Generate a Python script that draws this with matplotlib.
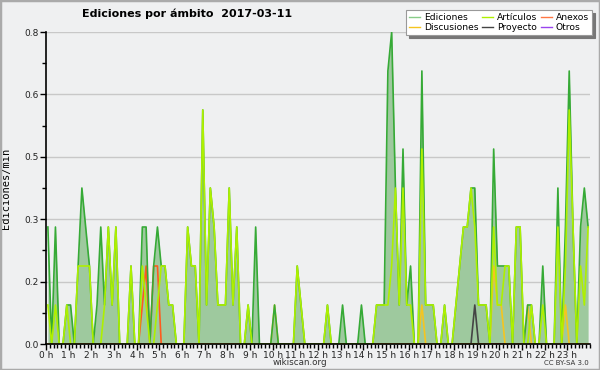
import numpy as np
import matplotlib
matplotlib.use("Agg")
import matplotlib.pyplot as plt
from matplotlib.patches import Rectangle
from matplotlib.ticker import FixedLocator, MultipleLocator

# edits per minute, one value per 10-minute bin (6 per hour, 0h..23h)
ediciones = [
    0.3, 0, 0.3, 0, 0, 0.1,        # 0h
    0.1, 0, 0.2, 0.4, 0.3, 0.2,    # 1h
    0, 0.1, 0.3, 0.1, 0.3, 0.1,    # 2h
    0.3, 0, 0, 0, 0.2, 0,          # 3h
    0, 0.3, 0.3, 0, 0.2, 0.3,      # 4h
    0.2, 0.2, 0.1, 0.1, 0, 0,      # 5h
    0, 0.3, 0.2, 0.2, 0, 0.6,      # 6h
    0.1, 0.4, 0.3, 0.1, 0.1, 0.1,  # 7h
    0.4, 0.1, 0.3, 0, 0, 0.1,      # 8h
    0, 0.3, 0, 0, 0, 0,            # 9h
    0.1, 0, 0, 0, 0, 0,            # 10h
    0.2, 0.1, 0, 0, 0, 0,          # 11h
    0, 0, 0.1, 0, 0, 0,            # 12h
    0.1, 0, 0, 0, 0, 0.1,          # 13h
    0, 0, 0, 0.1, 0.1, 0.1,        # 14h
    0.7, 0.8, 0.4, 0.1, 0.5, 0.1,  # 15h
    0.2, 0, 0, 0.7, 0.1, 0.1,      # 16h
    0.1, 0, 0, 0.1, 0, 0,          # 17h
    0.1, 0.2, 0.3, 0.3, 0.4, 0.4,  # 18h
    0.1, 0.1, 0.1, 0, 0.5, 0.2,    # 19h
    0.2, 0.2, 0.2, 0, 0.3, 0.3,    # 20h
    0, 0.1, 0.1, 0, 0, 0.2,        # 21h
    0, 0, 0, 0.4, 0, 0.3,          # 22h
    0.7, 0.3, 0, 0.3, 0.4, 0.3,    # 23h
]

articulos = [
    0.1, 0, 0.1, 0, 0, 0.1,
    0, 0, 0.2, 0.2, 0.2, 0.2,
    0, 0, 0, 0.1, 0.3, 0.1,
    0.3, 0, 0, 0, 0.2, 0,
    0, 0.2, 0.1, 0, 0, 0.1,
    0.2, 0.2, 0.1, 0.1, 0, 0,
    0, 0.3, 0.2, 0.2, 0, 0.6,
    0.1, 0.4, 0.3, 0.1, 0.1, 0.1,
    0.4, 0.1, 0.3, 0, 0, 0.1,
    0, 0, 0, 0, 0, 0,
    0, 0, 0, 0, 0, 0,
    0.2, 0.1, 0, 0, 0, 0,
    0, 0, 0.1, 0, 0, 0,
    0, 0, 0, 0, 0, 0,
    0, 0, 0, 0.1, 0.1, 0.1,
    0.1, 0.2, 0.4, 0.1, 0.4, 0.1,
    0.1, 0, 0, 0.5, 0.1, 0.1,
    0.1, 0, 0, 0.1, 0, 0,
    0.1, 0.2, 0.3, 0.3, 0.4, 0.3,
    0.1, 0.1, 0.1, 0, 0.3, 0.1,
    0.1, 0.2, 0.2, 0, 0.3, 0.3,
    0, 0, 0.1, 0, 0, 0.1,
    0, 0, 0, 0.3, 0, 0.2,
    0.6, 0.3, 0, 0.2, 0.1, 0.3,
]

# sparse series: bin index -> value
discusiones_bins = [60, 99, 118, 119, 120, 127, 137]
discusiones_vals = [0.1, 0.1, 0.2, 0.1, 0.1, 0.1, 0.1]
anexos_bins = [25, 26, 28, 29]
anexos_vals = [0.1, 0.2, 0.2, 0.2]
proyecto_bins = [113]
proyecto_vals = [0.1]
otros_bins = []
otros_vals = []

hour_labels = ["%d h" % h for h in range(24)]

n = len(ediciones)
t = (np.arange(n) + 0.5) / 6.0


def build(bins, vals):
    s = np.zeros(n)
    s[bins] = vals
    return s


discusiones = build(discusiones_bins, discusiones_vals)
anexos = build(anexos_bins, anexos_vals)
proyecto = build(proyecto_bins, proyecto_vals)
otros = build(otros_bins, otros_vals)

bg = "#eff0f1"
fig = plt.figure(figsize=(6, 3.7), dpi=100, facecolor=bg)
ax = fig.add_axes([46 / 600, 1 - 344 / 370, 544 / 600, 312 / 370])
ax.set_facecolor(bg)

ax.fill_between(t, ediciones, color="#9ec99e", lw=0, zorder=1)
ax.plot(t, otros, color="#9944ee", lw=1.2, zorder=1.5)
ax.plot(t, proyecto, color="#444444", lw=1.2, zorder=1.6)
ax.plot(t, anexos, color="#ff5a1e", lw=1.2, zorder=1.7)
ax.plot(t, discusiones, color="#f5c520", lw=1.2, zorder=1.8)
ax.plot(t, ediciones, color="#36aa36", lw=1.2, zorder=1.9)
ax.plot(t, articulos, color="#aef000", lw=1.2, zorder=2)

ax.set_xlim(0, 24)
ax.set_ylim(0, 0.8)

yt = np.linspace(0, 0.8, 6)
ax.yaxis.set_major_locator(FixedLocator(yt))
ax.set_yticklabels(["%.1f" % v for v in yt])
ax.yaxis.set_minor_locator(FixedLocator(yt[:-1] + 0.08))
ax.set_xticks(np.arange(24))
ax.set_xticklabels(hour_labels)
ax.xaxis.set_minor_locator(MultipleLocator(1 / 6))

ax.grid(axis="y", color="#c8c8c8", lw=1)
ax.set_axisbelow(True)
for s in ["top", "right"]:
    ax.spines[s].set_visible(False)
for s in ["left", "bottom"]:
    ax.spines[s].set_linewidth(1.2)
    ax.spines[s].set_zorder(3)

ax.tick_params(axis="both", which="major", length=4, width=1, labelsize=6.5,
               pad=1, labelcolor="#222222")
ax.tick_params(axis="both", which="minor", length=3, width=1)

ax.set_ylabel("Ediciones/min", family="DejaVu Sans Mono", fontsize=7.5, labelpad=10)

fig.text(0.3125, 0.962, "Ediciones por ámbito  2017-03-11", ha="center", va="center",
         fontsize=8, weight="bold", family="DejaVu Sans")
fig.text(0.5, 0.019, "wikiscan.org", ha="center", va="center", fontsize=6.3,
         color="#333333")
fig.text(0.982, 0.019, "CC BY-SA 3.0", ha="right", va="center", fontsize=5,
         color="#333333")

handles = [
    plt.Line2D([], [], color="#88cc88", lw=1),
    plt.Line2D([], [], color="#f5c520", lw=1),
    plt.Line2D([], [], color="#aef000", lw=1),
    plt.Line2D([], [], color="#444444", lw=1),
    plt.Line2D([], [], color="#ff7744", lw=1),
    plt.Line2D([], [], color="#9944ee", lw=1),
]
labels = ["Ediciones", "Discusiones", "Artículos", "Proyecto", "Anexos", "Otros"]
leg = fig.legend(handles, labels, ncol=3, loc="upper right",
                 bbox_to_anchor=(592 / 600, 1 - 10 / 370), fontsize=6.6,
                 frameon=True, fancybox=False, framealpha=1, edgecolor="#999999",
                 handlelength=1.2, handletextpad=0.45, columnspacing=0.35,
                 labelspacing=0.1, borderpad=0.35, borderaxespad=0,
                 shadow={"color": "#777777", "alpha": 1})
leg.get_frame().set_linewidth(0.8)

fig.patches.append(Rectangle((0, 0), 1, 1, transform=fig.transFigure, fill=False,
                             edgecolor="#aaaaaa", lw=2.5, zorder=10))

fig.savefig("out.png", dpi=100, facecolor=bg)
